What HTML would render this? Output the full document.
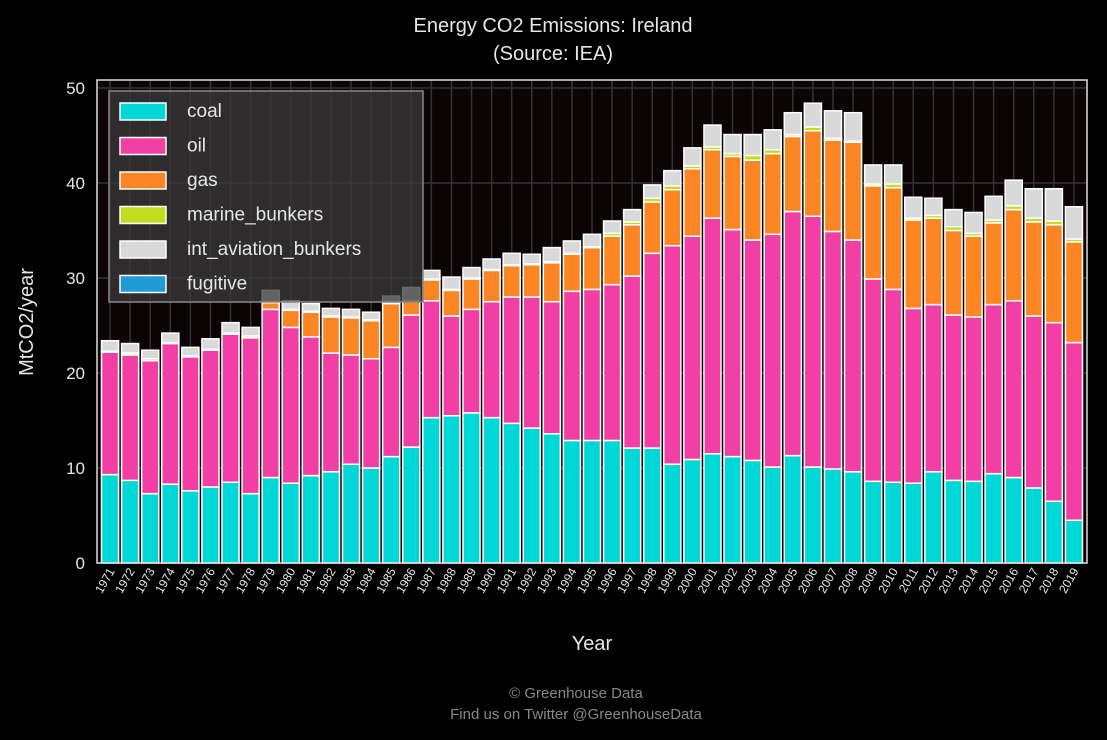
<!DOCTYPE html>
<html><head><meta charset="utf-8">
<style>
html,body{margin:0;padding:0;background:#000;}
svg{display:block;font-family:"Liberation Sans",sans-serif;}
</style></head>
<body>
<svg id="chart" width="1107" height="740" viewBox="0 0 1107 740" xmlns="http://www.w3.org/2000/svg">
<rect x="0" y="0" width="1107" height="740" fill="#000"/>
<text x="553" y="32" fill="#e6e6e6" font-size="20" text-anchor="middle">Energy CO2 Emissions: Ireland</text>
<text x="553" y="60" fill="#e6e6e6" font-size="20" text-anchor="middle">(Source: IEA)</text>
<rect x="97" y="80" width="990" height="483" fill="#0c0404"/>
<g id="grid"></g>
<g id="bars"></g>
<rect x="97" y="80" width="990" height="483" fill="none" stroke="#ddd" stroke-width="1.5"/>
<g id="yticks"></g>
<g id="xticks"></g>
<text x="33" y="322" fill="#e6e6e6" font-size="20" text-anchor="middle" transform="rotate(-90 33 322)">MtCO2/year</text>
<text x="592" y="650" fill="#e6e6e6" font-size="20" text-anchor="middle">Year</text>
<g id="legend"></g>
<text x="576" y="698" fill="#888" font-size="15" text-anchor="middle">© Greenhouse Data</text>
<text x="576" y="719" fill="#888" font-size="15" text-anchor="middle">Find us on Twitter @GreenhouseData</text>
</svg>
<script>
const years = [1971,1972,1973,1974,1975,1976,1977,1978,1979,1980,1981,1982,1983,1984,1985,1986,1987,1988,1989,1990,1991,1992,1993,1994,1995,1996,1997,1998,1999,2000,2001,2002,2003,2004,2005,2006,2007,2008,2009,2010,2011,2012,2013,2014,2015,2016,2017,2018,2019];
const coal = [9.3,8.7,7.3,8.3,7.6,8.0,8.5,7.3,9.0,8.4,9.2,9.6,10.4,10.0,11.2,12.2,15.3,15.5,15.8,15.3,14.7,14.2,13.6,12.9,12.9,12.9,12.1,12.1,10.4,10.9,11.5,11.2,10.8,10.1,11.3,10.1,9.9,9.6,8.6,8.5,8.4,9.6,8.7,8.6,9.4,9.0,7.9,6.5,4.5];
const oil = [12.9,13.2,14.0,14.8,14.1,14.4,15.6,16.4,17.7,16.4,14.6,12.5,11.5,11.5,11.5,13.9,12.3,10.5,10.9,12.2,13.3,13.8,13.9,15.7,15.9,16.4,18.1,20.5,23.0,23.5,24.8,23.9,23.2,24.5,25.7,26.4,25.0,24.4,21.3,20.3,18.4,17.6,17.4,17.3,17.8,18.6,18.1,18.8,18.7];
const gas = [0,0,0,0,0,0,0,0,0.7,1.8,2.6,3.8,3.9,4.0,4.6,1.5,2.2,2.7,3.2,3.3,3.3,3.4,4.1,3.9,4.4,5.1,5.4,5.4,5.9,7.1,7.2,7.7,8.4,8.5,7.9,9.0,9.6,10.3,9.8,10.7,9.3,9.1,8.9,8.5,8.6,9.6,9.9,10.3,10.6];
const marine = [0.1,0.2,0.2,0.1,0.1,0.1,0.1,0.2,0.1,0.1,0.1,0.1,0.1,0.1,0.1,0.1,0.1,0.1,0.1,0.1,0.1,0.1,0.1,0.1,0.1,0.3,0.3,0.4,0.4,0.3,0.3,0.3,0.5,0.4,0.2,0.4,0.2,0.1,0.2,0.4,0.2,0.3,0.4,0.3,0.3,0.4,0.4,0.4,0.3];
const aviation = [1.1,1.0,0.9,1.0,0.9,1.1,1.1,0.9,1.2,0.9,0.8,0.8,0.8,0.8,0.7,1.3,0.9,1.3,1.1,1.1,1.2,1.0,1.5,1.3,1.3,1.3,1.3,1.4,1.6,1.9,2.3,2.0,2.2,2.1,2.3,2.5,2.9,3.0,2.0,2.0,2.2,1.8,1.8,2.2,2.5,2.7,3.1,3.4,3.4];
const fugitive = [0,0,0,0,0,0,0,0,0,0,0,0,0,0,0,0,0,0,0,0,0,0,0,0,0,0,0,0,0,0,0,0,0,0,0,0,0,0,0,0,0,0,0,0,0,0,0,0,0];
const yTicks = [0,10,20,30,40,50];
const seriesNames = ['coal','oil','gas','marine_bunkers','int_aviation_bunkers','fugitive'];
const seriesColors = ['#00d8d8','#f23fa5','#fb8623','#c0de1e','#d9d9d9','#1f9bd8'];
const seriesData = [coal,oil,gas,marine,aviation,fugitive];

const NS='http://www.w3.org/2000/svg';
const L=97,R=1087,B=563,PX=9.5,slot=(R-L)/(years.length+0.3);
function y(v){return B-v*PX;}
function xc(i){return L+(i+0.65)*slot;}
function mk(tag,attrs,parent){const e=document.createElementNS(NS,tag);for(const k in attrs)e.setAttribute(k,attrs[k]);parent.appendChild(e);return e;}

const grid=document.getElementById('grid');
years.forEach((yr,i)=>{
  const l=mk('line',{x1:xc(i),x2:xc(i),y1:80,y2:B,stroke:'#333','stroke-width':1.5},grid);
  
  
});
yTicks.forEach(t=>{
  const l=mk('line',{x1:L,x2:R,y1:y(t),y2:y(t),stroke:'#333','stroke-width':1.5},grid);
  
  
});

const bars=document.getElementById('bars');
const bw=slot*0.85;
years.forEach((yr,i)=>{
  let base=0;
  seriesData.forEach((arr,s)=>{
    const v=arr[i];
    if(v<=0)return;
    const r=mk('rect',{x:xc(i)-bw/2,y:y(base+v),width:bw,height:v*PX,fill:seriesColors[s],stroke:'#fff','stroke-width':1.5},bars);
    
    
    base+=v;
  });
});

const yt=document.getElementById('yticks');
yTicks.forEach(t=>{
  const tx=mk('text',{x:L-12,y:y(t)+6,fill:'#e6e6e6','font-size':17,'text-anchor':'end'},yt);
  tx.textContent=t;
  
  
});
const xt=document.getElementById('xticks');
years.forEach((yr,i)=>{
  const px=xc(i)+5,py=B+8;
  const tx=mk('text',{x:px,y:py,fill:'#e6e6e6','font-size':12,'text-anchor':'end',transform:'rotate(-60 '+px+' '+py+')'},xt);
  tx.textContent=yr;
  
  
});

const lg=document.getElementById('legend');
const box=mk('rect',{x:109,y:91,width:314,height:211,fill:'#3a3a3a','fill-opacity':0.75,stroke:'#888','stroke-width':1.5},lg);


seriesNames.forEach((n,s)=>{
  const cy=111+s*34.5;
  const sw=mk('rect',{x:120,y:cy-8,width:46,height:17,fill:seriesColors[s],stroke:'#fff','stroke-width':1.5},lg);
  
  
  const tx=mk('text',{x:187,y:cy+6,fill:'#e6e6e6','font-size':19},lg);
  tx.textContent=n;
  
  
});
</script>
</body></html>
